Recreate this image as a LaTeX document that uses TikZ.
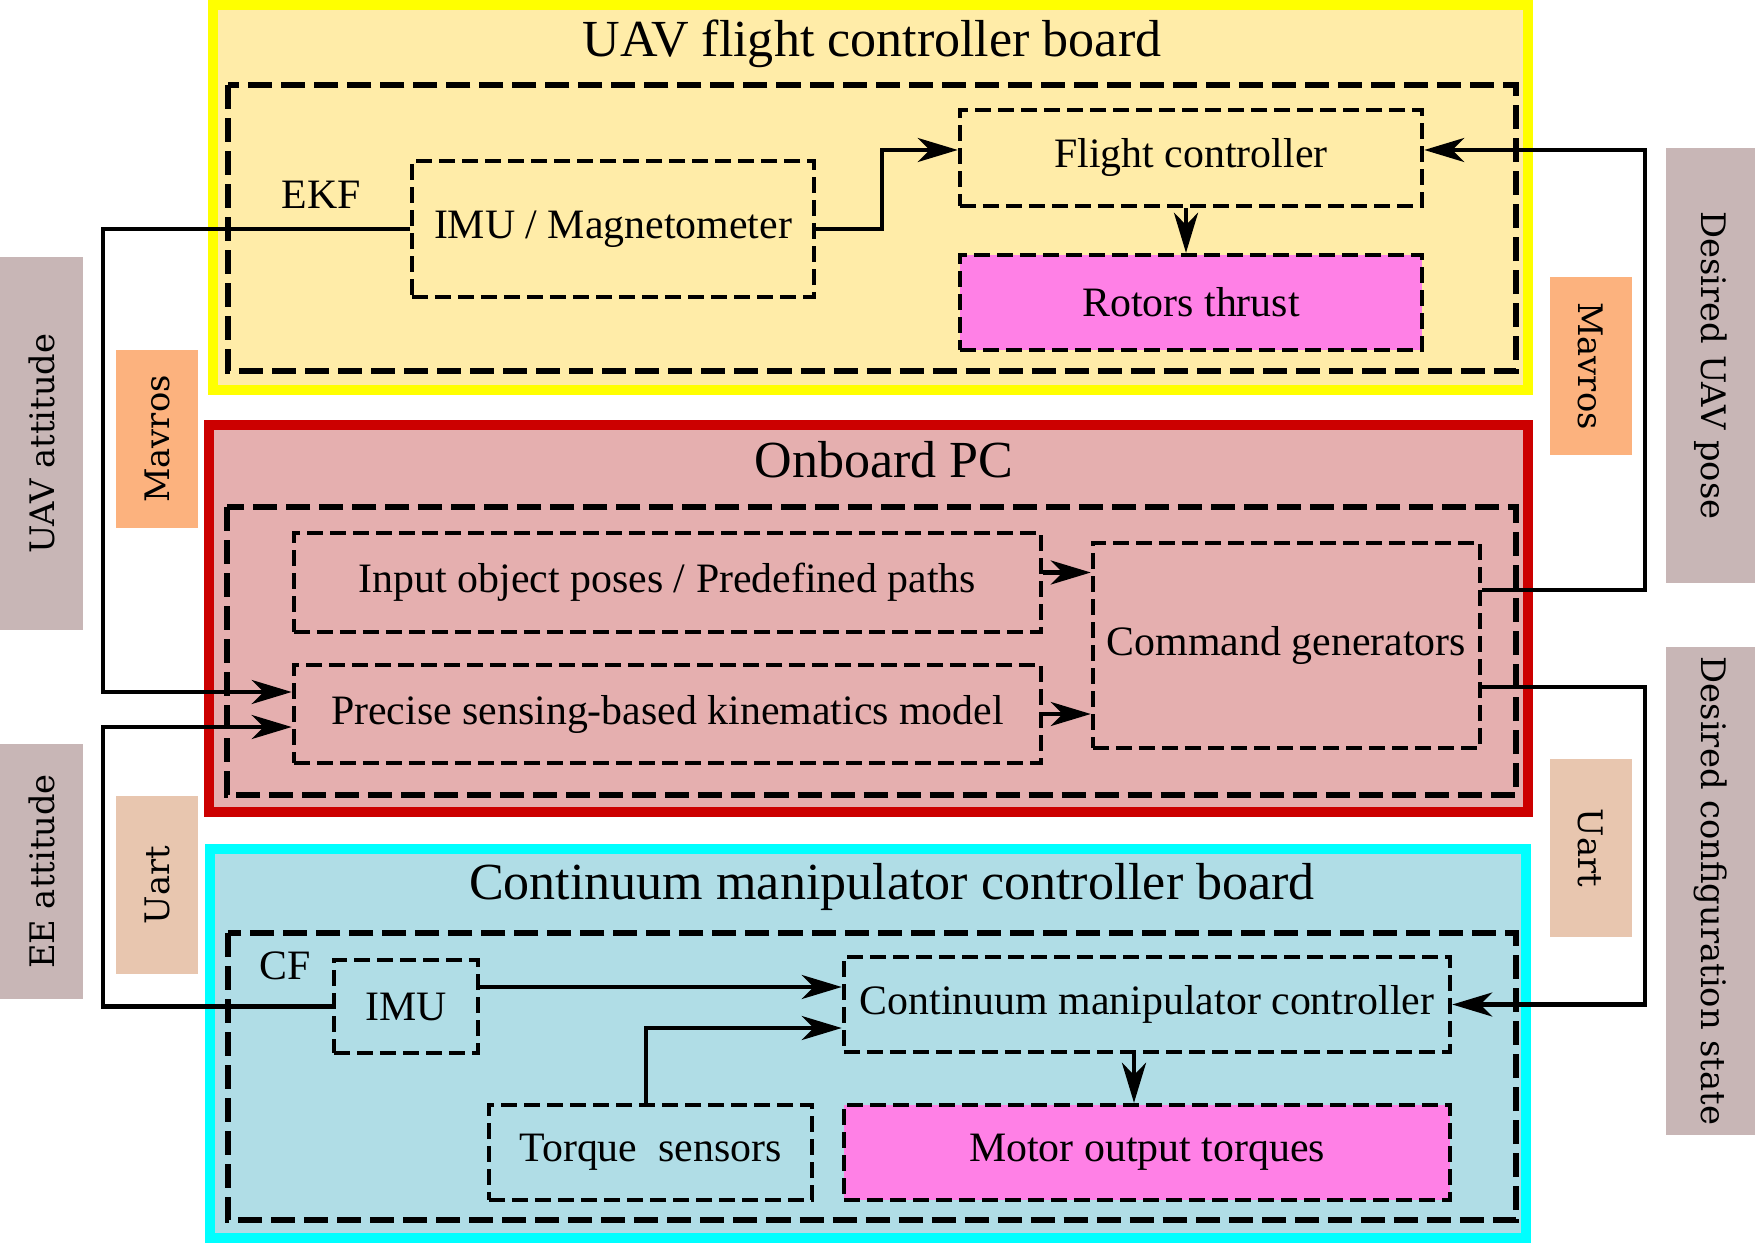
\documentclass[tikz,border=0pt]{standalone}
\usepackage{fontspec}
\setmainfont{Liberation Serif}
\newfontfamily\sidefont{DejaVu Serif}
\usepackage{xcolor}
\usetikzlibrary{arrows.meta}

\definecolor{fcfill}{RGB}{255,236,168}
\definecolor{fcedge}{RGB}{255,255,0}
\definecolor{pcfill}{RGB}{229,175,175}
\definecolor{pcedge}{RGB}{204,0,0}
\definecolor{cmfill}{RGB}{176,221,230}
\definecolor{cmedge}{RGB}{0,255,255}
\definecolor{outfill}{RGB}{255,128,230}
\definecolor{sidegrey}{RGB}{200,182,182}
\definecolor{mavrosfill}{RGB}{252,178,126}
\definecolor{uartfill}{RGB}{232,198,175}

\begin{document}
\begin{tikzpicture}[x=0.01cm,y=-0.01cm]
            \tikzstyle{every node}+=[inner sep=0pt]
            \tikzstyle{panelbox}=[line width=0.1cm]
            \tikzstyle{dashframe}=[line width=1.7pt,dash pattern=on 0.24cm off 0.09cm]
            \tikzstyle{unitbox}=[draw,line width=1.2pt,dash pattern=on 0.16cm off 0.07cm,font=\fontsize{11.9}{14}\selectfont]
            \tikzstyle{paneltitle}=[anchor=base,font=\fontsize{14.8}{17}\selectfont]
            \tikzstyle{sidelabel}=[font=\sidefont\fontsize{9.6}{11}\selectfont]
            \tikzstyle{arrowlink}=[line width=1.2pt,-{Stealth[length=0.4cm,width=0.24cm,inset=0.12cm]}]
            \useasboundingbox (0,0) rectangle (1755,1243);
            % side labels
            \node [sidelabel,fill=sidegrey,rotate=90,minimum width=3.73cm,minimum height=0.83cm] (uavatt) at (41.5,443.5) {UAV attitude};
            \node [sidelabel,fill=mavrosfill,rotate=90,minimum width=1.78cm,minimum height=0.82cm] (mavrosl) at (157,439) {Mavros};
            \node [sidelabel,fill=sidegrey,rotate=90,minimum width=2.55cm,minimum height=0.83cm] (eeatt) at (41.5,871.5) {EE attitude};
            \node [sidelabel,fill=uartfill,rotate=90,minimum width=1.78cm,minimum height=0.82cm] (uartl) at (157,885) {Uart};
            \node [sidelabel,fill=mavrosfill,rotate=-90,minimum width=1.78cm,minimum height=0.82cm] (mavrosr) at (1591,366) {Mavros};
            \node [sidelabel,fill=sidegrey,rotate=-90,minimum width=4.35cm,minimum height=0.89cm] (despose) at (1710.5,365.5) {Desired UAV pose};
            \node [sidelabel,fill=uartfill,rotate=-90,minimum width=1.78cm,minimum height=0.82cm] (uartr) at (1591,848) {Uart};
            \node [sidelabel,fill=sidegrey,rotate=-90,minimum width=4.88cm,minimum height=0.89cm] (desconf) at (1710.5,891) {Desired configuration state};
            % UAV flight controller board
            \filldraw [panelbox,draw=fcedge,fill=fcfill] (213,5) rectangle (1528,390);
            \draw [dashframe] (228,85) rectangle (1516,371);
            \node [paneltitle] (fctitle) at (872,57) {UAV flight controller board};
            \node [unitbox,minimum width=4.02cm,minimum height=1.36cm] (imumag) at (613,229) {IMU\ /\ Magnetometer};
            \node [unitbox,minimum width=4.62cm,minimum height=0.96cm] (fc) at (1191,158) {Flight controller};
            \node [unitbox,fill=outfill,minimum width=4.62cm,minimum height=0.95cm] (rt) at (1191,302.5) {Rotors thrust};
            \node [font=\fontsize{11.9}{14}\selectfont,anchor=base] (ekf) at (321,209) {EKF};
            % Onboard PC
            \filldraw [panelbox,draw=pcedge,fill=pcfill] (209,425) rectangle (1528,812);
            \draw [dashframe] (227,507) rectangle (1516,795);
            \node [paneltitle] (pctitle) at (884,477) {Onboard PC};
            \node [unitbox,minimum width=7.47cm,minimum height=0.99cm] (input) at (667.5,582.5) {Input object poses\ /\ Predefined paths};
            \node [unitbox,minimum width=7.47cm,minimum height=0.98cm] (precise) at (667.5,714) {Precise sensing-based kinematics model};
            \node [unitbox,minimum width=3.87cm,minimum height=2.05cm] (cmdgen) at (1286.5,645.5) {Command generators};
            % Continuum manipulator controller board
            \filldraw [panelbox,draw=cmedge,fill=cmfill] (210,849) rectangle (1526,1238);
            \draw [dashframe] (228,933) rectangle (1516,1220);
            \node [paneltitle] (cmtitle) at (892,899) {Continuum manipulator controller board};
            \node [unitbox,minimum width=1.44cm,minimum height=0.93cm] (imu) at (406,1006.5) {IMU};
            \node [unitbox,minimum width=6.06cm,minimum height=0.95cm] (cmc) at (1147,1004.5) {Continuum manipulator controller};
            \node [unitbox,minimum width=3.23cm,minimum height=0.95cm] (torque) at (650.5,1152.5) {Torque\ \ sensors};
            \node [unitbox,fill=outfill,minimum width=6.06cm,minimum height=0.95cm] (motor) at (1147,1152.5) {Motor output torques};
            \node [font=\fontsize{11.9}{14}\selectfont,anchor=base] (cf) at (285,979) {CF};
            % connectors
            \coordinate (leftbus) at (103,0);
            \coordinate (rightbus) at (1645,0);
            \draw [arrowlink] (imumag.east) -- ++(66,0) |- ([yshift=0.08cm]fc.west);
            \draw [arrowlink] ([xshift=-0.05cm]fc.south) -- ([xshift=-0.05cm]rt.north);
            \draw [arrowlink] (imumag.west) -- (imumag.west -| leftbus) |- ([yshift=0.22cm]precise.west);
            \draw [arrowlink] (imu.west) -- (imu.west -| leftbus) |- ([yshift=-0.13cm]precise.west);
            \draw [arrowlink] ([yshift=0.1cm]input.east) -- ([yshift=0.1cm]input.east -| cmdgen.west);
            \draw [arrowlink] (precise.east) -- (precise.east -| cmdgen.west);
            \draw [arrowlink] ([yshift=0.555cm]cmdgen.east) -- ([yshift=0.555cm]cmdgen.east -| rightbus) |- ([yshift=0.08cm]fc.east);
            \draw [arrowlink] ([yshift=-0.415cm]cmdgen.east) -- ([yshift=-0.415cm]cmdgen.east -| rightbus) |- (cmc.east);
            \draw [arrowlink] ([yshift=0.195cm]imu.east) -- ([yshift=0.195cm]imu.east -| cmc.west);
            \draw [arrowlink] ([xshift=-0.045cm]torque.north) |- ([yshift=-0.235cm]cmc.west);
            \draw [arrowlink] ([xshift=-0.13cm]cmc.south) -- ([xshift=-0.13cm]motor.north);
\end{tikzpicture}
\end{document}
